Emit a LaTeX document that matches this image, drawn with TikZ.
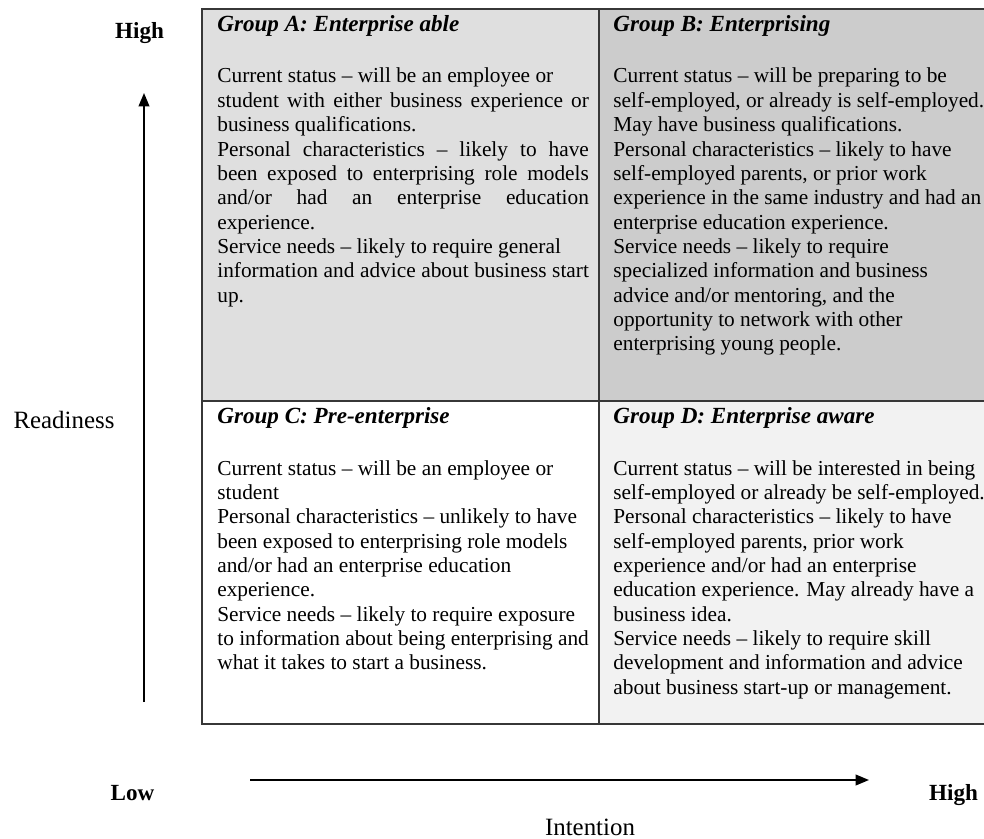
\documentclass[tikz,border=0pt]{standalone}
\usepackage{fontspec}
\setmainfont{Liberation Serif}
\usetikzlibrary{arrows.meta}
\definecolor{cellA}{RGB}{223,223,223}
\definecolor{cellB}{RGB}{204,204,204}
\definecolor{cellD}{RGB}{242,242,242}
\definecolor{gridc}{RGB}{55,55,55}
\newcommand{\jline}[1]{\makebox[209pt][s]{#1}}
\begin{document}
\begin{tikzpicture}[x=0.5625pt,y=-0.5625pt,
  gridline/.style={draw=gridc,line width=1pt},
  axis/.style={draw=black,line width=1pt,-{Triangle[length=7.5pt,width=6pt]}},
  title/.style={anchor=base west,inner sep=0pt,font=\fontsize{13}{15}\selectfont\bfseries\itshape},
  body/.style={anchor=base west,inner sep=0pt,font=\fontsize{12}{13.7}\selectfont},
  axlabel/.style={anchor=base,inner sep=0pt,font=\fontsize{14}{16}\selectfont},
  endlabel/.style={anchor=base,inner sep=0pt,font=\fontsize{13}{15}\selectfont\bfseries}]
\clip (0,0) rectangle (984,839);
\fill[white] (0,0) rectangle (984,839);
% cells
\fill[cellA] (202,9) rectangle (599,401);
\fill[cellB] (599,9) rectangle (995,401);
\fill[white] (202,401) rectangle (599,724);
\fill[cellD] (599,401) rectangle (995,724);
\draw[gridline] (202,9) rectangle (995,724);
\draw[gridline] (599,9) -- (599,724);
\draw[gridline] (202,401) -- (995,401);
% Group A
\node[title] (tA) at (217,32) {Group A: Enterprise able};
\node[body] (bA) at (217,83) {\parbox[t]{240pt}{\raggedright
Current status -- will be an employee or\\
\jline{student with either business experience or}\\
business qualifications.\\
\jline{Personal characteristics -- likely to have}\\
\jline{been exposed to enterprising role models}\\
\jline{and/or had an enterprise education}\\
experience.\\
Service needs -- likely to require general\\
\jline{information and advice about business start}\\
up.}};
% Group B
\node[title] (tB) at (613,32) {Group B: Enterprising};
\node[body] (bB) at (613,83) {\parbox[t]{240pt}{\raggedright
Current status -- will be preparing to be\\
self-employed, or already is self-employed.\\
May have business qualifications.\\
Personal characteristics -- likely to have\\
self-employed parents, or prior work\\
experience in the same industry and had an\\
enterprise education experience.\\
Service needs -- likely to require\\
specialized information and business\\
advice and/or mentoring, and the\\
opportunity to network with other\\
enterprising young people.}};
% Group C
\node[title] (tC) at (217,424) {Group C: Pre-enterprise};
\node[body] (bC) at (217,475) {\parbox[t]{240pt}{\raggedright
Current status -- will be an employee or\\
student\\
Personal characteristics -- unlikely to have\\
been exposed to enterprising role models\\
and/or had an enterprise education\\
experience.\\
Service needs -- likely to require exposure\\
to information about being enterprising and\\
what it takes to start a business.}};
% Group D
\node[title] (tD) at (613,424) {Group D: Enterprise aware};
\node[body] (bD) at (613,475) {\parbox[t]{240pt}{\raggedright
Current status -- will be interested in being\\
self-employed or already be self-employed.\\
Personal characteristics -- likely to have\\
self-employed parents, prior work\\
experience and/or had an enterprise\\
education experience. May already have a\\
business idea.\\
Service needs -- likely to require skill\\
development and information and advice\\
about business start-up or management.}};
% axes labels
\node[endlabel] (hiR) at (139.5,39) {High};
\node[endlabel] (lo) at (132.5,800) {Low};
\node[endlabel] (hiI) at (953.5,800) {High};
\node[axlabel] (ready) at (64,429) {Readiness};
\node[axlabel] (intent) at (590,835) {Intention};
% axes
\coordinate (vlow) at (144,702);
\coordinate (vhigh) at (144,93);
\coordinate (hlow) at (250,780);
\coordinate (hhigh) at (869,780);
\draw[axis] (vlow) -- (vhigh);
\draw[axis] (hlow) -- (hhigh);
\end{tikzpicture}
\end{document}
